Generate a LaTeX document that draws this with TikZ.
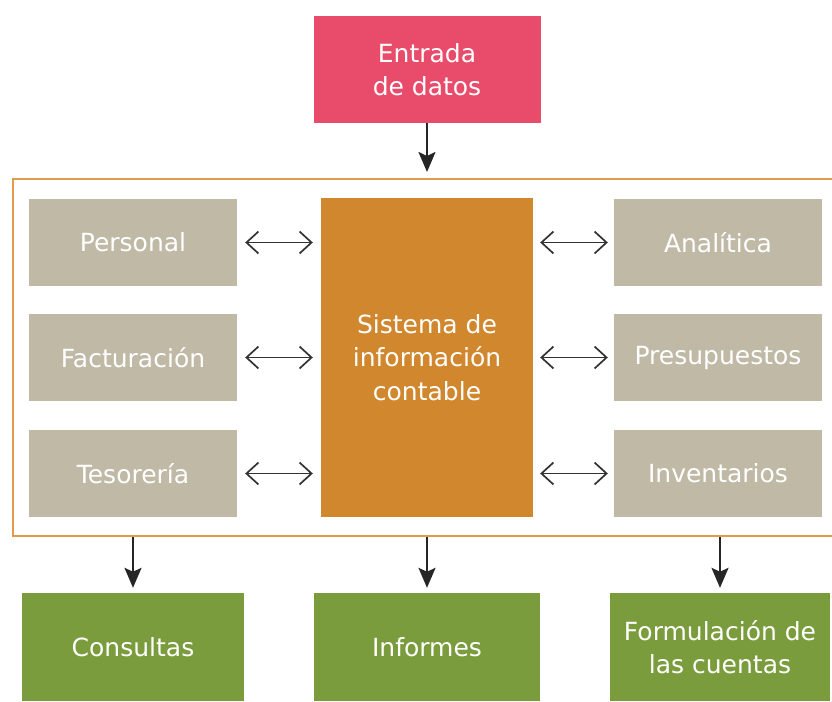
\documentclass[tikz,border=0pt]{standalone}
\usepackage{fontspec}
\setmainfont{DejaVu Sans}
\usetikzlibrary{arrows.meta}
\definecolor{rosa}{HTML}{E94B6A}
\definecolor{naranja}{HTML}{D1872D}
\definecolor{borde}{HTML}{E39A4A}
\definecolor{gris}{HTML}{BFB9A6}
\definecolor{verde}{HTML}{7A9C3C}
\begin{document}
\begin{tikzpicture}[x=1pt,y=-1pt,
  caja/.style={fill=#1,text=white,inner sep=0pt,align=center,
    font=\fontsize{25}{33.5}\selectfont},
  flecha/.style={line width=2.2pt,draw=black!85,-{Stealth[length=20pt,width=17pt,inset=4pt]}},
  doble/.style={line width=1.7pt,draw=black!80,{Straight Barb[length=12pt,width=22pt]}-{Straight Barb[length=12pt,width=22pt]}}]
  \useasboundingbox (0,0) rectangle (832,701);
  % Marco del sistema
  \node[draw=borde,line width=2pt,minimum width=827pt,minimum height=357pt] (marco) at (426.5,357.5) {};
  % Entrada de datos
  \node[caja=rosa,minimum width=227pt,minimum height=107pt] (entrada) at (427,69.5) {Entrada\\de datos};
  % Sistema central
  \node[caja=naranja,minimum width=212pt,minimum height=319pt] (sistema) at (427,357.5) {Sistema de\\información\\contable};
  % Modulos izquierda
  \begin{scope}[every node/.style={caja=gris,minimum width=208pt,minimum height=87pt}]
    \node (personal) at (133,242.5) {Personal};
    \node (facturacion) at (133,357.5) {Facturación};
    \node (tesoreria) at (133,473.5) {Tesorería};
  \end{scope}
  % Modulos derecha
  \begin{scope}[every node/.style={caja=gris,minimum width=208pt,minimum height=87pt}]
    \node (analitica) at (718,242.5) {Analítica};
    \node (presupuestos) at (718,357.5) {Presupuestos};
    \node (inventarios) at (718,473.5) {Inventarios};
  \end{scope}
  % Salidas
  \begin{scope}[every node/.style={caja=verde,minimum height=108pt}]
    \node[minimum width=222pt] (consultas) at (133,647) {Consultas};
    \node[minimum width=226pt] (informes) at (427,647) {Informes};
    \node[minimum width=220pt] (formulacion) at (720,647) {Formulación de\\las cuentas};
  \end{scope}
  % Flechas
  \draw[flecha,shorten >=6pt] (entrada) -- (entrada |- marco.north);
  \foreach \s in {consultas,informes,formulacion}
    \draw[flecha,shorten >=5pt] (\s.north |- marco.south) -- (\s.north);
  \foreach \m in {personal,facturacion,tesoreria}
    \draw[doble,shorten <=8pt,shorten >=8pt] (\m.east) -- (sistema.west |- \m);
  \foreach \m in {analitica,presupuestos,inventarios}
    \draw[doble,shorten <=7pt,shorten >=6pt] (sistema.east |- \m) -- (\m.west);
\end{tikzpicture}
\end{document}
